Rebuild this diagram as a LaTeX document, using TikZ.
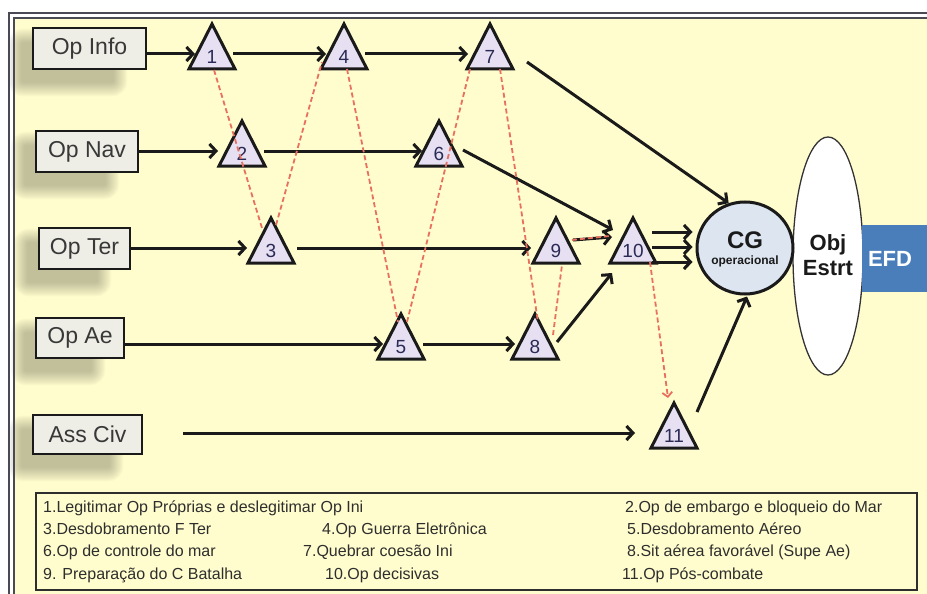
\documentclass[tikz,border=0pt]{standalone}
\usepackage{fontspec}
\setmainfont{Liberation Sans}
\usetikzlibrary{arrows.meta,shapes.geometric,calc,backgrounds}

\definecolor{paper}{HTML}{FFFDCD}
\definecolor{framecol}{HTML}{4A4A55}
\definecolor{boxfill}{HTML}{EEEEE6}
\definecolor{boxtext}{HTML}{383838}
\definecolor{trifill}{HTML}{E6E0F2}
\definecolor{numcol}{HTML}{2A2A55}
\definecolor{cgfill}{HTML}{DDE5F0}
\definecolor{efdblue}{HTML}{4A7EBB}
\definecolor{dashred}{HTML}{E8705F}
\definecolor{shadecol}{HTML}{6E6D58}
\definecolor{legcol}{HTML}{2E2E2E}
\definecolor{inkline}{HTML}{1A1A1A}

% triangle marker: #1 name, #2 centroid, #3 number
\newcommand\optri[3]{%
  \filldraw[trishape] ($(#2)+(0,-30)$) -- ($(#2)+(23,15)$) -- ($(#2)+(-23,15)$) -- cycle;
  \node[trinum] (#1) at (#2) {#3};}

% soft shadow under an operation box
\newcommand\boxshade[1]{%
  \begin{pgfonlayer}{background}
  \foreach \e in {14,13,...,0}{%
    \fill[shadecol, opacity=0.03, rounded corners=\e pt+1pt]
      ($(#1.north west)+(-10-\e,16-\e)$) rectangle ($(#1.south east)+(-34+\e,12+\e)$);
  }
  \end{pgfonlayer}}

\begin{document}
\begin{tikzpicture}[x=1pt,y=-1pt,
  opbox/.style={draw=inkline, line width=2.6pt, fill=boxfill, text=boxtext,
    inner sep=0pt, font=\fontsize{23}{26}\selectfont},
  trishape/.style={draw=inkline, line width=3pt, fill=trifill, line join=miter},
  trinum/.style={inner sep=0pt, outer sep=0pt, text height=19pt, text depth=0pt,
    text=numcol, font=\fontsize{19}{20}\selectfont},
  arr/.style={draw=inkline, line width=3pt, -{Straight Barb[length=6.5pt,width=14pt]}},
  reddash/.style={draw=dashred, line width=1.8pt, dash pattern=on 5pt off 3pt},
  legtext/.style={anchor=west, inner sep=0pt, text height=11pt, text depth=3pt,
    text=legcol, font=\fontsize{16}{17}\selectfont},
]
\useasboundingbox (0,0) rectangle (927,594);

% page frame
\begin{pgfonlayer}{background}
  \fill[white] (0,0) rectangle (927,594);
  \fill[paper] (14,18) rectangle (940,610);
\end{pgfonlayer}
\draw[framecol, line width=1.5pt] (9,610) -- (9,13) -- (940,13);
\draw[framecol, line width=1.5pt] (14,610) -- (14,18) -- (940,18);

% operation boxes
\node[opbox, minimum width=113pt, minimum height=41pt] (opinfo) at (89.5,48.5) {Op Info};
\node[opbox, minimum width=102pt, minimum height=41pt] (opnav) at (87,151.5) {Op Nav};
\node[opbox, minimum width=91pt, minimum height=41pt] (opter) at (84.5,248.5) {Op Ter};
\node[opbox, minimum width=88pt, minimum height=40pt] (opae) at (80,338) {Op Ae};
\node[opbox, minimum width=109pt, minimum height=39pt] (asscivbox) at (87.5,434.5) {Ass Civ};
\boxshade{opinfo}
\boxshade{opnav}
\boxshade{opter}
\boxshade{opae}
\boxshade{asscivbox}

% strategic objective, end state and operational centre of gravity
\node[ellipse, draw=black!80, line width=1.3pt, fill=white, minimum width=70pt,
  minimum height=238pt, inner sep=0pt] (obj) at (828,256) {};
\node[font=\fontsize{22}{25}\bfseries\selectfont, align=center, text=inkline] (objtxt)
  at (828,255) {Obj\\Estrt};
\node[fill=efdblue, minimum width=68pt, minimum height=67pt, inner sep=0pt,
  anchor=west] (efd) at (862,258.5) {};
\node[font=\fontsize{22}{24}\bfseries\selectfont, text=white] (efdtxt) at (890,259) {EFD};
\node[ellipse, draw=inkline, line width=3pt, fill=cgfill, minimum width=96pt,
  minimum height=92pt, inner sep=0pt] (cg) at (745,248) {};
\node[font=\fontsize{24}{26}\bfseries\selectfont, text=inkline] (cgtxt) at (745,240) {CG};
\node[font=\fontsize{12}{13}\bfseries\selectfont, text=inkline] (cgsub) at (745,261) {operacional};

% operation triangles
\optri{t1}{212,54}{1}
\optri{t2}{242,151}{2}
\optri{t3}{271,248}{3}
\optri{t4}{344,54}{4}
\optri{t5}{401,344}{5}
\optri{t6}{439,151}{6}
\optri{t7}{490,54}{7}
\optri{t8}{535,344}{8}
\optri{t9}{556,248}{9}
\optri{t10}{633,248}{10}
\optri{t11}{674,433}{11}

% lines of operation
\draw[arr, shorten >=17pt] (opinfo.east |- t1.center) -- (t1.center);
\draw[arr, shorten <=21pt, shorten >=18pt] (t1.center) -- (t4.center);
\draw[arr, shorten <=21pt, shorten >=22pt] (t4.center) -- (t7.center);
\draw[arr, shorten >=24pt] (opnav.east |- t2.center) -- (t2.center);
\draw[arr, shorten <=22pt, shorten >=17pt] (t2.center) -- (t6.center);
\draw[arr, shorten >=24pt] (opter.east |- t3.center) -- (t3.center);
\draw[arr, shorten <=26pt, shorten >=25pt] (t3.center) -- (t9.center);
\draw[arr, shorten >=18pt] (opae.east |- t5.center) -- (t5.center);
\draw[arr, shorten <=22pt, shorten >=20pt] (t5.center) -- (t8.center);
\draw[arr, shorten >=39pt] ($(asscivbox.east |- t11.center)+(40,0)$) -- (t11.center);
\draw[arr] ($(t7.center)+(37,8)$) -- (cg.110);
\draw[arr] ($(t6.center)+(24,-1)$) -- ($(t10.center)+(-20,-18)$);
\draw[arr] ($(t9.center)+(17,-8)$) -- ($(t10.center)+(-21,-11)$);
\draw[arr] ($(t8.center)+(22,-2)$) -- ($(t10.center)+(-21,25)$);
\draw[arr] ($(t10.center)+(19,-16)$) -- ($(cg.west)+(-3,-16)$);
\draw[arr] ($(t10.center)+(19,-1)$) -- ($(cg.west)+(-3,-1)$);
\draw[arr] ($(t10.center)+(19,14)$) -- ($(cg.west)+(-3,14)$);
\draw[arr] ($(t11.center)+(23,-21)$) -- ($(cg.south)+(2,1)$);

% sequence of operations
\draw[reddash] ($(t1.center)+(2,16)$) -- ($(t3.center)+(-9,-20)$);
\draw[reddash] ($(t3.center)+(5,-23)$) -- ($(t4.center)+(-22,8)$);
\draw[reddash] ($(t4.center)+(3,15)$) -- ($(t5.center)+(-3,-22)$);
\draw[reddash] ($(t5.center)+(6,-22)$) -- ($(t7.center)+(-20,15)$);
\draw[reddash] ($(t7.center)+(10,15)$) -- ($(t8.center)+(3,-22)$);
\draw[reddash] ($(t8.center)+(18,-9)$) -- ($(t9.center)+(6,17)$);
\draw[reddash] ($(t9.center)+(16,-8)$) -- ($(t10.center)+(-23,-12)$);
\draw[reddash, -{Straight Barb[length=4.5pt,width=10pt]}] ($(t10.center)+(17,14)$) -- ($(t11.center)+(-6,-35)$);

% legend
\node[draw=legcol, line width=1.6pt, fill=paper, minimum width=881pt, minimum height=97pt,
  inner sep=0pt] (legend) at (476.5,541.5) {};
\node[legtext] (lg1) at (43,508) {1.Legitimar Op Próprias e deslegitimar Op Ini};
\node[legtext] (lg2) at (625,508) {2.Op de embargo e bloqueio do Mar};
\node[legtext] (lg3) at (43,530) {3.Desdobramento F Ter};
\node[legtext] (lg4) at (322,530) {4.Op Guerra Eletrônica};
\node[legtext] (lg5) at (627,530) {5.Desdobramento Aéreo};
\node[legtext] (lg6) at (43,552) {6.Op de controle do mar};
\node[legtext] (lg7) at (303,552) {7.Quebrar coesão Ini};
\node[legtext] (lg8) at (627,552) {8.Sit aérea favorável (Supe Ae)};
\node[legtext] (lg9) at (43,575) {9. Preparação do C Batalha};
\node[legtext] (lg10) at (325,575) {10.Op decisivas};
\node[legtext] (lg11) at (622,575) {11.Op Pós-combate};
\end{tikzpicture}
\end{document}
